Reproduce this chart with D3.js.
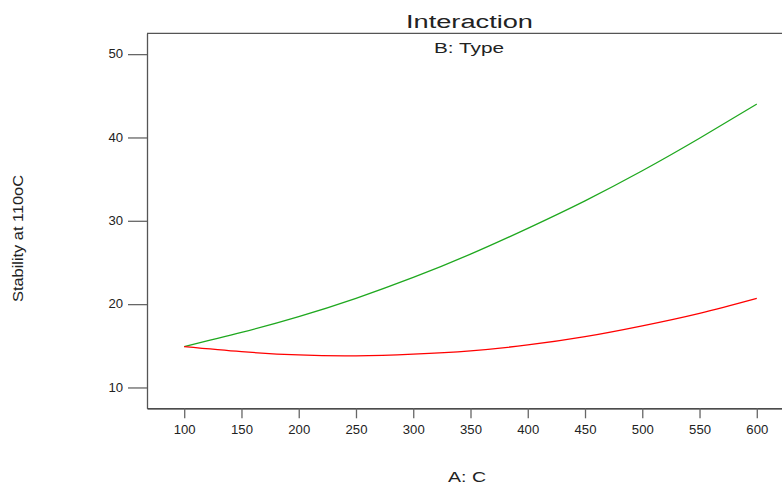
<!DOCTYPE html>
<html>
<head>
<meta charset="utf-8">
<script src="https://cdn.jsdelivr.net/npm/d3@7"></script>
<style>
  body { margin: 0; background: #fff; }
  text { font-family: Arial, "Liberation Sans", sans-serif; fill: #222; }
</style>
</head>
<body>
<svg id="chart" width="782" height="484"></svg>
<script>
// A: C levels and predicted stability for the two B: Type levels
var levelsA = [100, 150, 200, 250, 300, 350, 400, 450, 500, 550, 600];
var typeHigh = [14.9, 16.6, 18.5, 20.7, 23.2, 26.0, 29.1, 32.4, 36.0, 39.9, 44.0];
var typeLow = [14.9, 14.3, 13.9, 13.8, 14.0, 14.4, 15.1, 16.1, 17.4, 18.9, 20.7];
var xTicks = [100, 150, 200, 250, 300, 350, 400, 450, 500, 550, 600];
var yTicks = [10, 20, 30, 40, 50];

(function() {
    var svg = d3.select('#chart');

    var plotLeft = 147, plotTop = 33.3, plotBottom = 408.3, plotRight = 794;

    var x = d3.scaleLinear().domain([67.5, 632.5]).range([plotLeft, plotRight]);
    var y = d3.scaleLinear().domain([7.5, 52.5]).range([plotBottom, plotTop]);

    // frame: top border + left axis + bottom axis
    svg.append('line')
        .attr('x1', plotLeft).attr('x2', plotRight)
        .attr('y1', plotTop).attr('y2', plotTop)
        .attr('stroke', '#555').attr('stroke-width', 1.3);

    var yAxis = svg.append('g')
        .attr('transform', 'translate(' + plotLeft + ',0)')
        .call(d3.axisLeft(y).tickValues(yTicks).tickSize(19).tickPadding(5).tickSizeOuter(0));

    var xAxis = svg.append('g')
        .attr('transform', 'translate(0,' + plotBottom + ')')
        .call(d3.axisBottom(x).tickValues(xTicks).tickSize(10).tickPadding(7).tickSizeOuter(0));

    yAxis.select('.domain').attr('stroke', '#555').attr('stroke-width', 1.3);
    xAxis.select('.domain').attr('stroke', '#111').attr('stroke-width', 1.3);
    svg.selectAll('.tick line').attr('stroke', '#666').attr('stroke-width', 1.3);
    // labels in the original are a little wider than plain 12px Arial
    svg.selectAll('.tick text')
        .style('font-size', '12px')
        .style('font-family', 'Arial, "Liberation Sans", sans-serif')
        .attr('fill', '#222')
        .attr('textLength', function() { return this.textContent.length * 7.3; })
        .attr('lengthAdjust', 'spacingAndGlyphs');

    var line = d3.line()
        .x(function(d, i) { return x(levelsA[i]); })
        .y(function(d) { return y(d); })
        .curve(d3.curveNatural);

    svg.append('path')
        .datum(typeHigh)
        .attr('d', line)
        .attr('fill', 'none')
        .attr('stroke', '#1fa81f')
        .attr('stroke-width', 1.3);

    svg.append('path')
        .datum(typeLow)
        .attr('d', line)
        .attr('fill', 'none')
        .attr('stroke', '#ff0000')
        .attr('stroke-width', 1.3);

    // titles
    svg.append('text')
        .attr('x', 406).attr('y', 28)
        .attr('textLength', 127).attr('lengthAdjust', 'spacingAndGlyphs')
        .style('font-size', '18px')
        .text('Interaction');

    svg.append('text')
        .attr('x', 434).attr('y', 53)
        .attr('textLength', 70).attr('lengthAdjust', 'spacingAndGlyphs')
        .style('font-size', '14px')
        .text('B: Type');

    svg.append('text')
        .attr('x', 448).attr('y', 482)
        .attr('textLength', 38).attr('lengthAdjust', 'spacingAndGlyphs')
        .style('font-size', '15px')
        .text('A: C');

    svg.append('text')
        .attr('transform', 'translate(23,302) rotate(-90)')
        .attr('textLength', 127).attr('lengthAdjust', 'spacingAndGlyphs')
        .style('font-size', '14px')
        .text('Stability at 110oC');
})();
</script>
</body>
</html>
